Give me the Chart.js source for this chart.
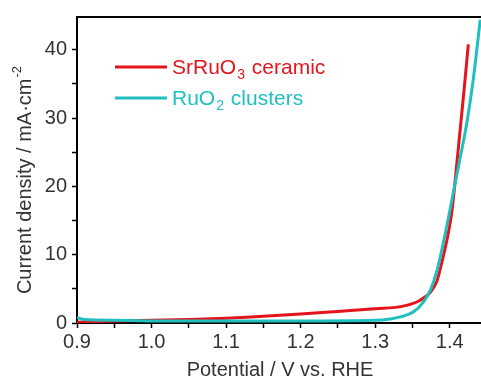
<!DOCTYPE html>
<html>
<head>
<meta charset="utf-8">
<script src="https://cdn.jsdelivr.net/npm/chart.js@4/dist/chart.umd.min.js"></script>
<style>
  html, body { margin: 0; padding: 0; background: #fff; }
  #wrap { width: 481px; height: 378px; }
</style>
</head>
<body>
<div id="wrap"><canvas id="lsv"></canvas></div>
<script>
// values
const seriesNames = ['SrRuO_3 ceramic', 'RuO_2 clusters'];
const srruoPotential = [0.90, 0.95, 1.00, 1.05, 1.10, 1.15, 1.20, 1.25, 1.30, 1.334, 1.36, 1.374, 1.383, 1.389, 1.396, 1.403, 1.410, 1.419, 1.425];
const srruoCurrent   = [0.1, 0.3, 0.4, 0.5, 0.7, 1.0, 1.3, 1.7, 2.1, 2.4, 3.3, 4.5, 6.2, 8.7, 12, 16.4, 23.8, 33.8, 40.8];
const ruo2Potential  = [0.90, 0.91, 0.95, 1.00, 1.10, 1.20, 1.30, 1.32, 1.334, 1.351, 1.365, 1.374, 1.383, 1.392, 1.401, 1.413, 1.423, 1.432, 1.441];
const ruo2Current    = [0.8, 0.5, 0.4, 0.3, 0.3, 0.3, 0.4, 0.6, 0.9, 1.6, 3.1, 4.8, 7.7, 12, 16.9, 23.6, 29.3, 36.0, 44.4];
const xMajor = [0.9, 1.0, 1.1, 1.2, 1.3, 1.4];
const yMajor = [0, 10, 20, 30, 40];
const xTitle = 'Potential / V vs. RHE';
const yTitle = ['Current density / mA·cm', '-2'];

const RED = '#e5141c';
const CYAN = '#20bfc0';
const INK = '#333';
const FONT = "'Liberation Sans', Arial, sans-serif";

const toPoints = (xs, ys) => xs.map((x, i) => ({ x: x, y: ys[i] }));

// legend with subscripts, axis titles, top frame line
const extras = {
  id: 'extras',
  afterDraw(chart) {
    const ctx = chart.ctx;
    const a = chart.chartArea;
    ctx.save();
    ctx.strokeStyle = '#000';
    ctx.lineWidth = 2;
    ctx.beginPath();
    ctx.moveTo(a.left - 1, a.top);
    ctx.lineTo(a.right, a.top);
    ctx.stroke();

    // legend
    const rows = [[RED, 67], [CYAN, 98]];
    rows.forEach(([col, y], i) => {
      ctx.strokeStyle = col;
      ctx.lineWidth = 3;
      ctx.beginPath();
      ctx.moveTo(115, y);
      ctx.lineTo(167, y);
      ctx.stroke();
      ctx.fillStyle = col;
      ctx.textBaseline = 'alphabetic';
      ctx.textAlign = 'left';
      let x = 172;
      const parts = seriesNames[i].split('_');
      ctx.font = '21px ' + FONT;
      ctx.fillText(parts[0], x, y + 7);
      x += ctx.measureText(parts[0]).width;
      if (parts.length > 1) {
        const sub = parts[1].charAt(0);
        ctx.font = '14px ' + FONT;
        ctx.fillText(sub, x + 1, y + 12);
        x += ctx.measureText(sub).width + 2;
        ctx.font = '21px ' + FONT;
        ctx.fillText(parts[1].slice(1), x, y + 7);
      }
    });

    // x title
    ctx.fillStyle = INK;
    ctx.font = '20px ' + FONT;
    ctx.textAlign = 'center';
    ctx.textBaseline = 'alphabetic';
    ctx.fillText(xTitle, 280, 376);

    // y title, rotated, with superscript
    ctx.translate(31, 180);
    ctx.rotate(-Math.PI / 2);
    ctx.font = '20px ' + FONT;
    const w1 = ctx.measureText(yTitle[0]).width;
    ctx.font = '13px ' + FONT;
    const w2 = ctx.measureText(yTitle[1]).width;
    const start = -(w1 + w2 + 1) / 2;
    ctx.textAlign = 'left';
    ctx.font = '20px ' + FONT;
    ctx.fillText(yTitle[0], start, 0);
    ctx.font = '13px ' + FONT;
    ctx.fillText(yTitle[1], start + w1 + 1, -10);
    ctx.restore();
  }
};

new Chart(document.getElementById('lsv'), {
  type: 'line',
  data: {
    datasets: [
      {
        label: seriesNames[0],
        data: toPoints(srruoPotential, srruoCurrent),
        borderColor: RED,
        borderWidth: 3,
        pointRadius: 0,
        cubicInterpolationMode: 'monotone',
        order: 1
      },
      {
        label: seriesNames[1],
        data: toPoints(ruo2Potential, ruo2Current),
        borderColor: CYAN,
        borderWidth: 3,
        pointRadius: 0,
        cubicInterpolationMode: 'monotone',
        order: 0
      }
    ]
  },
  options: {
    responsive: true,
    maintainAspectRatio: false,
    animation: false,
    layout: { padding: { top: 14, right: 0, left: 0, bottom: 0 } },
    plugins: { legend: { display: false }, tooltip: { enabled: false } },
    scales: {
      x: {
        type: 'linear',
        min: 0.9,
        max: 1.442,
        afterFit: s => { s.height = 55; },
        grid: { drawOnChartArea: false, tickLength: 5, tickColor: '#000', tickWidth: 1.5 },
        border: { color: '#000', width: 2 },
        ticks: {
          stepSize: 0.05,
          includeBounds: false,
          autoSkip: false,
          maxRotation: 0,
          padding: 2,
          color: INK,
          font: { family: FONT, size: 20 },
          callback: v => {
            const m = xMajor.find(t => Math.abs(t - v) < 1e-6);
            return m === undefined ? '' : m.toFixed(1);
          }
        },
        title: { display: false }
      },
      y: {
        min: 0,
        max: 44.8,
        afterFit: s => { s.width = 77; },
        grid: { drawOnChartArea: false, tickLength: 5, tickColor: '#000', tickWidth: 1.5 },
        border: { color: '#000', width: 2 },
        ticks: {
          stepSize: 5,
          includeBounds: false,
          autoSkip: false,
          padding: 5,
          color: INK,
          font: { family: FONT, size: 20 },
          callback: v => (yMajor.includes(v) ? String(v) : '')
        },
        title: { display: false }
      }
    }
  },
  plugins: [extras]
});
</script>
</body>
</html>
